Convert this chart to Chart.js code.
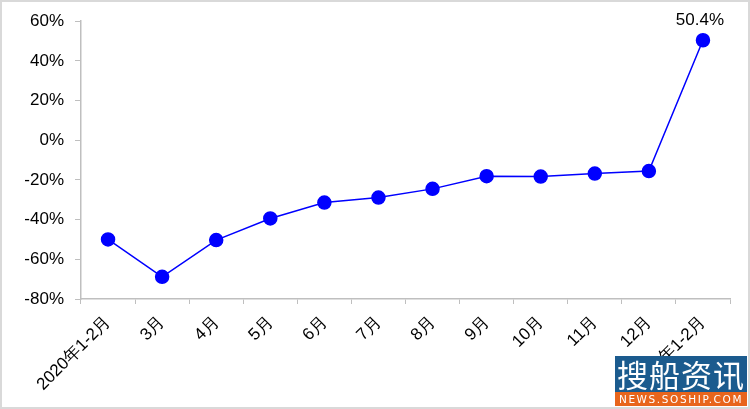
<!DOCTYPE html>
<html>
<head>
<meta charset="utf-8">
<script src="https://cdn.jsdelivr.net/npm/chart.js@4"></script>
<style>
  html, body { margin: 0; padding: 0; background: #fff; }
  #wrap { position: relative; width: 750px; height: 409px; box-sizing: border-box; border: 2px solid #d9d9d9; }
  #chart { position: absolute; left: -2px; top: -2px; }
  #mark { position: absolute; left: 613px; top: 354px; width: 132px; font-family: "Noto Sans CJK SC", sans-serif; color: #fff; }
  #mark .top { background: #1b5b8e; height: 36px; line-height: 36px; font-size: 31px; text-align: center; letter-spacing: 1px; }
  #mark .bot { background: #e8651c; height: 14px; line-height: 14px; font-size: 10.5px; text-align: center; letter-spacing: 1.6px; font-family: "DejaVu Sans", sans-serif; }
</style>
</head>
<body>
<div id="wrap">
  <canvas id="chart" width="750" height="409"></canvas>
  <div id="mark"><div class="top">搜船资讯</div><div class="bot">NEWS.SOSHIP.COM</div></div>
</div>
<script>
// categories and year-on-year change (%)
const months = ["2020年1-2月", "3月", "4月", "5月", "6月", "7月", "8月", "9月", "10月", "11月", "12月", "2021年1-2月"]
const growth = [-50, -68.8, -50.3, -39.4, -31.4, -28.9, -24.5, -18.1, -18.3, -16.8, -15.5, 50.4]
const labelled = [11] // only the last point carries a value label

const axisGray = "#bfbfbf"
const font = { family: "'Liberation Sans', Arial, sans-serif", size: 17 }

// draw the value text above selected points
const valueLabels = {
  id: "valueLabels",
  afterDatasetsDraw(chart) {
    const ctx = chart.ctx
    const meta = chart.getDatasetMeta(0)
    ctx.save()
    ctx.font = "17px " + font.family
    ctx.fillStyle = "#000"
    ctx.textAlign = "center"
    ctx.textBaseline = "bottom"
    labelled.forEach(i => {
      const p = meta.data[i]
      ctx.fillText(growth[i].toFixed(1) + "%", p.x - 3, p.y - 11)
    })
    ctx.restore()
  }
}

new Chart(document.getElementById("chart"), {
  type: "line",
  data: {
    labels: months,
    datasets: [{
      data: growth,
      borderColor: "#0000ff",
      backgroundColor: "#0000ff",
      borderWidth: 1.5,
      pointRadius: 6.5,
      pointHoverRadius: 6.5,
      tension: 0
    }]
  },
  options: {
    responsive: false,
    animation: false,
    layout: { padding: { left: 0, right: 20, top: 21, bottom: 0 } },
    plugins: { legend: { display: false }, tooltip: { enabled: false } },
    scales: {
      x: {
        offset: true,
        grid: { display: true, drawOnChartArea: false, offset: true, color: axisGray, tickLength: 5, tickColor: axisGray },
        border: { color: axisGray, width: 1.5 },
        ticks: { color: "#000", font: font, minRotation: 45, maxRotation: 45, autoSkip: false, padding: 8 },
        afterFit(scale) { scale.height = 110 }
      },
      y: {
        min: -80,
        max: 60,
        grid: { display: true, drawOnChartArea: false, color: axisGray, tickLength: 6 },
        border: { color: axisGray, width: 1.5 },
        ticks: { stepSize: 20, color: "#000", font: font, padding: 11, callback: v => v + "%" },
        afterFit(scale) { scale.width = 81 }
      }
    }
  },
  plugins: [valueLabels]
})
</script>
</body>
</html>
